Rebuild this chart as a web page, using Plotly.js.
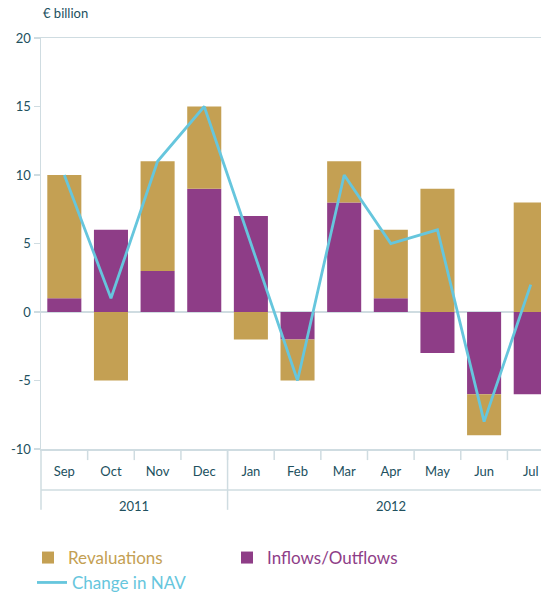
<!DOCTYPE html>
<html>
<head>
<meta charset="utf-8">
<script src="https://cdn.plot.ly/plotly-3.0.1.min.js"></script>
<style>
html,body{margin:0;padding:0;background:#fff;overflow:hidden;}
#chart{width:541px;height:595px;}
</style>
</head>
<body>
<div id="chart"></div>
<script>
const months = ["Sep","Oct","Nov","Dec","Jan","Feb","Mar","Apr","May","Jun","Jul"];
const years = ["2011","2012"];
const yearCenters = [1.5, 7];
const revaluations = [9, -5, 8, 6, -2, -3, 3, 5, 9, -3, 8];
const flows = [1, 6, 3, 9, 7, -2, 8, 1, -3, -6, -6];
const navChange = [10, 1, 11, 15, 5, -5, 10, 5, 6, -8, 2];
const yTicks = [-10, -5, 0, 5, 10, 15, 20];
const yTickText = ["-10", "-5", "0", "5", "10", "15", "20"];

const TAN = "#c4a053", PURPLE = "#8e3d87", BLUE = "#66c6dd";
const AX = "#cfdce1", TXT = "#21505e";
const x = months.map((m, i) => i);

const traces = [
  {type: "bar", x: x, y: flows, name: '<span style="color:' + PURPLE + '">Inflows/Outflows</span>',
   marker: {color: PURPLE}, legendrank: 2, legend: "legend", hoverinfo: "skip"},
  {type: "bar", x: x, y: revaluations, name: '<span style="color:' + TAN + '">Revaluations</span>',
   marker: {color: TAN}, legendrank: 1, legend: "legend", hoverinfo: "skip"},
  {type: "scatter", mode: "lines", x: x, y: navChange, name: '<span style="color:' + BLUE + '">Change in NAV</span>',
   line: {color: BLUE, width: 2.8}, legendrank: 3, legend: "legend2", hoverinfo: "skip"}
];

const shapes = [
  {type: "line", xref: "paper", yref: "paper", x0: 0, x1: 1, y0: -0.0998, y1: -0.0998, line: {color: AX, width: 1.5}},
  {type: "line", xref: "x", yref: "paper", x0: 3.5, x1: 3.5, y0: 0, y1: -0.148, line: {color: AX, width: 1.5}},
  {type: "line", xref: "paper", yref: "paper", x0: 0, x1: 0, y0: 0, y1: -0.148, line: {color: AX, width: 1.5}}
];
for (let i = 0; i < months.length; i++) {
  shapes.push({type: "line", xref: "x", yref: "paper", x0: i + 0.5, x1: i + 0.5, y0: 0, y1: -0.027, line: {color: AX, width: 1.5}});
}

const annotations = years.map((yr, i) => ({
  text: yr, xref: "x", yref: "paper", x: yearCenters[i], y: -0.1385, showarrow: false,
  font: {family: "Lato, sans-serif", size: 13, color: TXT}, yanchor: "middle"
}));
annotations.push({text: "€ billion", xref: "paper", yref: "paper", x: 0.0, y: 1.06, xanchor: "left", yanchor: "middle",
  showarrow: false, font: {family: "Lato, sans-serif", size: 13, color: TXT}});

const legendFont = {family: "Lato, sans-serif", size: 17, color: TXT};
const layout = {
  width: 541, height: 595,
  margin: {l: 41, r: 0, t: 38, b: 146, autoexpand: false},
  paper_bgcolor: "#fff", plot_bgcolor: "#fff",
  barmode: "relative", bargap: 0.27,
  showlegend: true,
  legend: {orientation: "h", x: -0.026, xanchor: "left", y: -0.2214, yanchor: "top",
    font: legendFont, entrywidth: 154, traceorder: "normal"},
  legend2: {orientation: "h", x: -0.018, xanchor: "left", y: -0.282, yanchor: "top",
    font: legendFont, traceorder: "normal"},
  xaxis: {type: "linear", range: [-0.5, 10.22], tickmode: "array", tickvals: x, ticktext: months,
    showgrid: false, zeroline: false, showline: true, mirror: true, linecolor: AX, linewidth: 1.5,
    ticks: "", tickfont: {family: "Lato, sans-serif", size: 13, color: TXT}, ticklabelstandoff: 10},
  yaxis: {range: [-10, 20], tickmode: "array", tickvals: yTicks, ticktext: yTickText,
    showgrid: false, zeroline: true, zerolinecolor: AX, zerolinewidth: 1.5,
    showline: true, linecolor: AX, linewidth: 1.5, ticks: "outside", ticklen: 6, tickcolor: AX, tickwidth: 1.5,
    tickfont: {family: "Lato, sans-serif", size: 13, color: TXT}},
  shapes: shapes,
  annotations: annotations
};

Plotly.newPlot("chart", traces, layout, {staticPlot: true, displayModeBar: false});
</script>
</body>
</html>
